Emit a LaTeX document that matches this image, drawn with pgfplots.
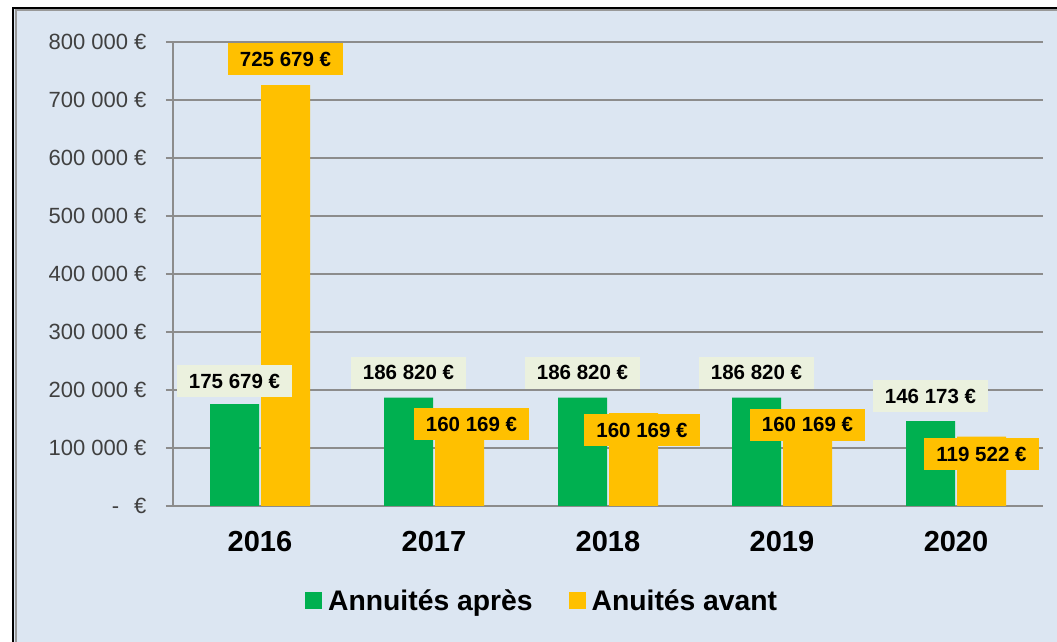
\documentclass[border=0pt]{standalone}
\usepackage{fontspec}
\setmainfont{Liberation Sans}
\usepackage{pgfplots}
\pgfplotsset{compat=1.18}
\usepackage{pgfplotstable}

\definecolor{bgblue}{HTML}{DCE6F2}
\definecolor{barG}{HTML}{00B050}
\definecolor{barY}{HTML}{FFC000}
\definecolor{labG}{HTML}{EBF1DE}
\definecolor{gridgray}{HTML}{8C8C8C}
\definecolor{ticktext}{HTML}{404040}

% x, values, label offsets (dx, dy in pt) for each series
\pgfplotstableread{
x  g       dxg dyg  y       dxy  dyy
0  175679  0   23   725679  0    26
1  186820  0   25   160169  12  -11
2  186820  0   25   160169  8.5 -17
3  186820  0   25   160169  0   -11.5
4  146173  0   25   119522  0   -17.5
}\data

\begin{document}
\begin{tikzpicture}
\useasboundingbox (0,0) rectangle (1057pt,642pt);
\fill[white] (0,0) rectangle (1057pt,642pt);
\fill[bgblue] (12pt,0) rectangle (1057pt,634pt);
\draw[black, line width=2.5pt] (13.2pt,0) -- (13.2pt,633.8pt) -- (1057pt,633.8pt);
\draw[gray!80, line width=2pt] (15.5pt,0) -- (15.5pt,631.5pt) -- (1057pt,631.5pt);

\begin{axis}[
    at={(173pt,136pt)}, anchor=south west,
    scale only axis,
    width=870pt, height=464pt,
    xmin=-0.5, xmax=4.5,
    ymin=0, ymax=800000,
    scaled y ticks=false,
    ybar, bar width=49pt,
    clip=false,
    axis x line*=bottom, axis y line*=left,
    axis line style={gridgray, line width=1.2pt},
    ymajorgrids, grid style={gridgray, line width=1.2pt},
    tick align=outside,
    xtick={0,1,2,3,4},
    xticklabels={2016,2017,2018,2019,2020},
    xtick style={draw=none},
    minor xtick={-0.5,0.5,1.5,2.5,3.5,4.5},
    minor x tick style={gridgray, line width=1.2pt},
    minor tick length=10pt,
    major tick length=7pt,
    ytick={0,100000,...,800000},
    ytick style={gridgray, line width=1.2pt},
    yticklabels={{-\hspace{15pt}€},{100 000 €},{200 000 €},{300 000 €},{400 000 €},{500 000 €},{600 000 €},{700 000 €},{800 000 €}},
    yticklabel style={font=\fontsize{22}{24}\selectfont, text=ticktext, xshift=-16pt},
    xticklabel style={font=\fontsize{29}{32}\selectfont\bfseries, yshift=-15pt},
    legend style={at={(0.1517,-0.2047)}, anchor=west, draw=none, fill=none,
        inner sep=0pt, legend columns=2,
        font=\fontsize{28.3}{32}\selectfont\bfseries,
        /tikz/every even column/.append style={column sep=34pt}},
    legend image code/.code={\fill[#1] (0pt,-8.5pt) rectangle (17pt,8.5pt); \path (21pt,0pt);},
    nodes near coords={\pgfmathprintnumber[fixed,precision=0,1000 sep={\ },assume math mode=true]{\pgfplotspointmeta}\ €},
    every node near coord/.append style={anchor=center, xshift=\myx pt, yshift=\myy pt,
        font=\fontsize{20.5}{24}\selectfont\bfseries, text=black,
        inner xsep=12pt, minimum height=32pt},
]
\addplot[fill=barG, draw=none,
    visualization depends on={\thisrow{dxg} \as \myx},
    visualization depends on={\thisrow{dyg} \as \myy},
    every node near coord/.append style={fill=labG}]
    table[x=x, y=g] {\data};
\addlegendentry{Annuités après}
\addplot[fill=barY, draw=none,
    visualization depends on={\thisrow{dxy} \as \myx},
    visualization depends on={\thisrow{dyy} \as \myy},
    every node near coord/.append style={fill=barY}]
    table[x=x, y=y] {\data};
\addlegendentry{Anuités avant}
\end{axis}
\end{tikzpicture}
\end{document}
